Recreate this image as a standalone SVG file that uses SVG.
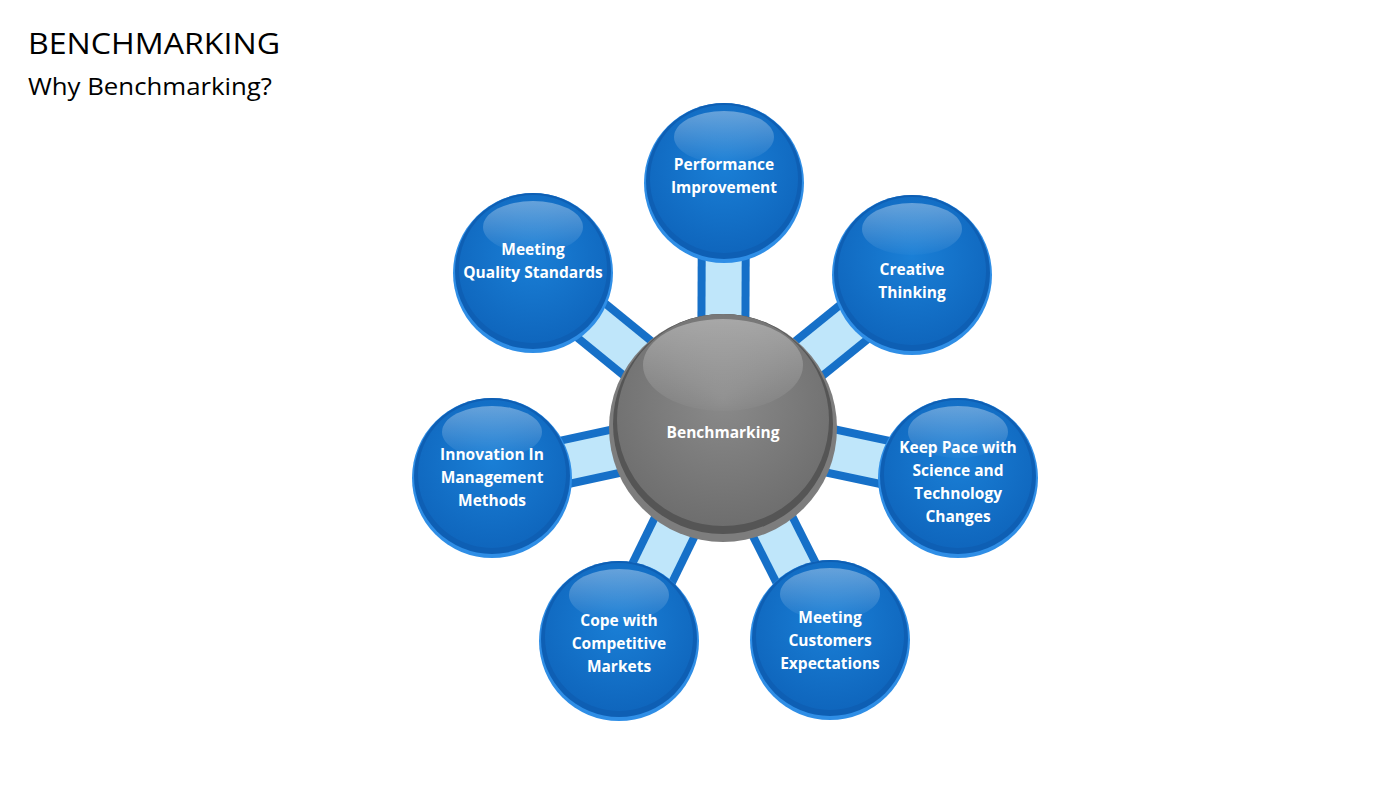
<svg xmlns="http://www.w3.org/2000/svg" width="1400" height="788" viewBox="0 0 1400 788">
<defs>
<radialGradient id="bg" cx="0.5" cy="0.4" r="0.6"><stop offset="0" stop-color="#1a7fd6"/><stop offset="1" stop-color="#0f66bd"/></radialGradient>
<linearGradient id="hl" x1="0" y1="0" x2="0" y2="1"><stop offset="0" stop-color="#ffffff" stop-opacity="0.35"/><stop offset="1" stop-color="#ffffff" stop-opacity="0.02"/></linearGradient>
<radialGradient id="gg" cx="0.5" cy="0.4" r="0.6"><stop offset="0" stop-color="#8a8a8a"/><stop offset="1" stop-color="#6e6e6e"/></radialGradient>
<g id="bub">
<circle r="80" fill="#2f8ee6"/>
<circle r="78" cy="-2" fill="#0e5fb4"/>
<circle r="74" cy="-4" fill="url(#bg)"/>
<ellipse cy="-46" rx="50" ry="26" fill="url(#hl)"/>
</g>
</defs>
<style>
.t{font-family:"Open Sans","Liberation Sans",sans-serif;fill:#fff;font-weight:bold;font-size:15.5px;text-anchor:middle}
.h{font-family:"Open Sans","Liberation Sans",sans-serif;fill:#000}
.co{stroke:#1670c8;stroke-width:52}
.ci{stroke:#bfe6fa;stroke-width:36}
</style>
<text class="h" x="28" y="54" font-size="30" textLength="252" lengthAdjust="spacingAndGlyphs">BENCHMARKING</text>
<text class="h" x="28" y="95" font-size="23" textLength="244" lengthAdjust="spacingAndGlyphs">Why Benchmarking?</text>
<g id="connectors">
<g class="co"><line x1="723" y1="428" x2="724" y2="183"/><line x1="723" y1="428" x2="912" y2="275"/><line x1="723" y1="428" x2="958" y2="478"/><line x1="723" y1="428" x2="830" y2="640"/><line x1="723" y1="428" x2="619" y2="641"/><line x1="723" y1="428" x2="492" y2="478"/><line x1="723" y1="428" x2="533" y2="273"/></g>
<g class="ci"><line x1="723" y1="428" x2="724" y2="183"/><line x1="723" y1="428" x2="912" y2="275"/><line x1="723" y1="428" x2="958" y2="478"/><line x1="723" y1="428" x2="830" y2="640"/><line x1="723" y1="428" x2="619" y2="641"/><line x1="723" y1="428" x2="492" y2="478"/><line x1="723" y1="428" x2="533" y2="273"/></g>
</g>
<g id="center">
<circle cx="723" cy="428" r="114" fill="#7d7d7d"/>
<circle cx="723" cy="424" r="110" fill="#555"/>
<circle cx="723" cy="420" r="106" fill="url(#gg)"/>
<ellipse cx="723" cy="365" rx="80" ry="46" fill="url(#hl)"/>
<text class="t" x="723" y="438" font-size="26">Benchmarking</text>
</g>
<g id="n1"><use href="#bub" x="724" y="183"/><text class="t" x="724" y="170">Performance</text><text class="t" x="724" y="193">Improvement</text></g>
<g id="n2"><use href="#bub" x="912" y="275"/><text class="t" x="912" y="275">Creative</text><text class="t" x="912" y="298">Thinking</text></g>
<g id="n3"><use href="#bub" x="958" y="478"/><text class="t" x="958" y="453">Keep Pace with</text><text class="t" x="958" y="476">Science and</text><text class="t" x="958" y="499">Technology</text><text class="t" x="958" y="522">Changes</text></g>
<g id="n4"><use href="#bub" x="830" y="640"/><text class="t" x="830" y="623">Meeting</text><text class="t" x="830" y="646">Customers</text><text class="t" x="830" y="669">Expectations</text></g>
<g id="n5"><use href="#bub" x="619" y="641"/><text class="t" x="619" y="626">Cope with</text><text class="t" x="619" y="649">Competitive</text><text class="t" x="619" y="672">Markets</text></g>
<g id="n6"><use href="#bub" x="492" y="478"/><text class="t" x="492" y="460">Innovation In</text><text class="t" x="492" y="483">Management</text><text class="t" x="492" y="506">Methods</text></g>
<g id="n7"><use href="#bub" x="533" y="273"/><text class="t" x="533" y="255">Meeting</text><text class="t" x="533" y="278">Quality Standards</text></g>
</svg>
